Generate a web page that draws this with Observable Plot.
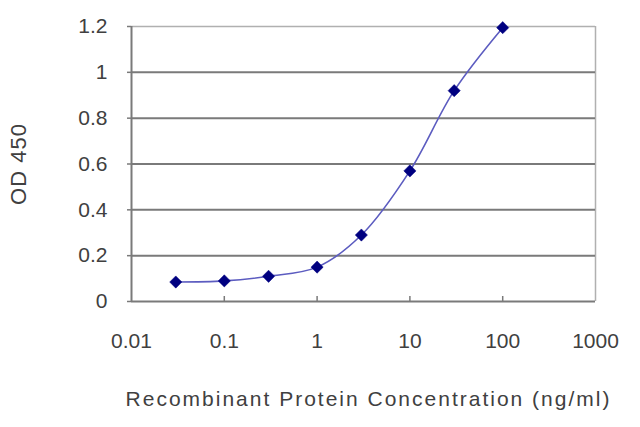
<!DOCTYPE html>
<html><head><meta charset="utf-8">
<script src="https://cdn.jsdelivr.net/npm/d3@7"></script>
<script src="https://cdn.jsdelivr.net/npm/@observablehq/plot@0.6"></script>
<style>
body{margin:0;background:#fff}
svg text{font-family:"Liberation Sans",Arial,sans-serif}
</style>
</head><body><div id="chart"></div>
<script>
const concentrations = [0.03, 0.1, 0.3, 1, 3, 10, 30, 100];
const od450 = [0.085, 0.09, 0.11, 0.15, 0.29, 0.57, 0.92, 1.195];
const xTicks = [0.01, 0.1, 1, 10, 100, 1000];
const xTickLabels = ["0.01", "0.1", "1", "10", "100", "1000"];
const yTicks = [0, 0.2, 0.4, 0.6, 0.8, 1, 1.2];
const yTickLabels = ["0", "0.2", "0.4", "0.6", "0.8", "1", "1.2"];
const xTitle = "Recombinant Protein Concentration (ng/ml)";
const yTitle = "OD 450";

const data = concentrations.map((c, i) => ({c, od: od450[i]}));
const textColor = "#404040";
const gridColor = "#7a7a7a";
const frameLight = "#b0b0b0";

const chart = Plot.plot({
  width: 640,
  height: 427,
  marginLeft: 131,
  marginRight: 45,
  marginTop: 26,
  marginBottom: 126,
  style: {background: "#fff", fontFamily: "Liberation Sans, Arial, sans-serif"},
  x: {type: "log", domain: [0.01, 1000]},
  y: {domain: [0, 1.2]},
  marks: [
    Plot.ruleY([1.2], {stroke: frameLight, strokeWidth: 1.5}),
    Plot.ruleX([1000], {stroke: frameLight, strokeWidth: 1.5}),
    Plot.gridY(yTicks.slice(1, -1), {stroke: gridColor, strokeOpacity: 1, strokeWidth: 2}),
    Plot.axisY({ticks: yTicks, tickSize: 4, tickPadding: 20, stroke: gridColor, strokeWidth: 1.5,
      fill: textColor, fontSize: 21, label: null,
      tickFormat: d => yTickLabels[yTicks.indexOf(d)]}),
    Plot.axisX({ticks: xTicks, tickSize: 0, tickPadding: 32, fill: textColor, fontSize: 21, label: null,
      tickFormat: d => xTickLabels[xTicks.indexOf(d)]}),
    Plot.axisX({ticks: xTicks.slice(1, -1), tickSize: 5, dy: -5, stroke: gridColor, strokeWidth: 1.5,
      tickFormat: () => "", label: null}),
    Plot.ruleY([0], {stroke: gridColor, strokeWidth: 2}),
    Plot.ruleX([0.01], {stroke: gridColor, strokeWidth: 2}),
    Plot.line(data, {x: "c", y: "od", curve: "catmull-rom", stroke: "#5c5cc0", strokeWidth: 1.6}),
    Plot.dot(data, {x: "c", y: "od", symbol: "diamond2", r: 5.5, fill: "#000080", stroke: "#000080", strokeWidth: 0.5}),
    Plot.text([xTitle], {frameAnchor: "bottom", dx: 5, dy: 98, fill: textColor, fontSize: 21, textAnchor: "middle", lineAnchor: "middle", className: "xtitle"}),
    Plot.text([yTitle], {frameAnchor: "left", dx: -113, rotate: -90, fill: textColor, fontSize: 22, textAnchor: "middle", lineAnchor: "middle", className: "ytitle"})
  ]
});
document.getElementById("chart").appendChild(chart);
chart.querySelectorAll(".xtitle text").forEach(t => t.setAttribute("letter-spacing", "2"));
chart.querySelectorAll(".ytitle text").forEach(t => t.setAttribute("letter-spacing", "1"));
</script>
</body></html>
